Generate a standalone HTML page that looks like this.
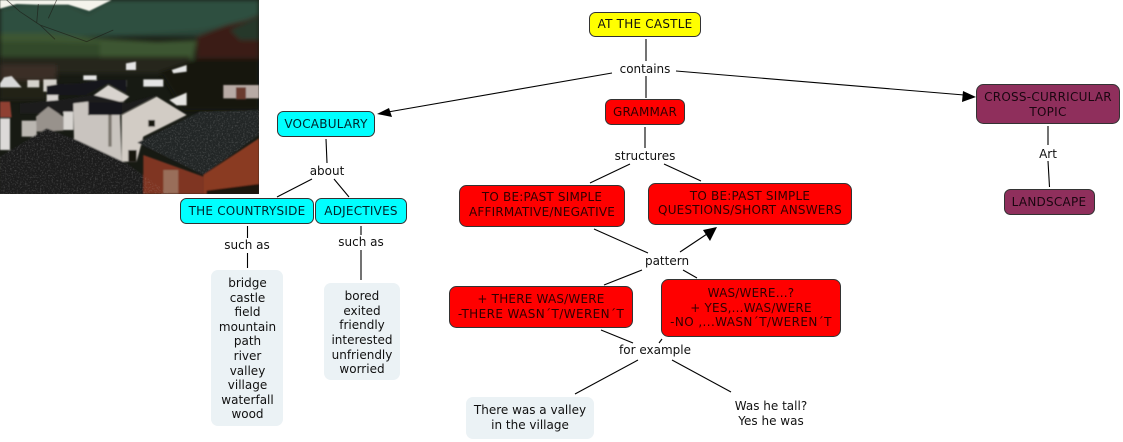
<!DOCTYPE html>
<html><head><meta charset="utf-8"><style>
html,body{margin:0;padding:0;background:#fff;width:1123px;height:442px;overflow:hidden}
svg{display:block}
text{font-family:"DejaVu Sans","Liberation Sans",sans-serif;font-size:12px;fill:#111;text-anchor:middle}
.c{letter-spacing:.22px}
.r{fill:#300000;letter-spacing:.2px}
.q{fill:#300000;letter-spacing:.4px}
.cy{fill:#00252c}
.p{fill:#1a0610;letter-spacing:.25px}
.n{stroke-width:1;stroke:#333}
.l{stroke:#000;stroke-width:1.1;fill:none}
</style></head><body>
<svg width="1123" height="442" viewBox="0 0 1123 442" xmlns="http://www.w3.org/2000/svg">
<defs>
<filter id="b" filterUnits="userSpaceOnUse" x="-30" y="-30" width="840" height="650"><feGaussianBlur stdDeviation="2.200"/></filter>
<filter id="b2" filterUnits="userSpaceOnUse" x="-60" y="-60" width="900" height="710"><feGaussianBlur stdDeviation="7"/></filter>
<filter id="t" filterUnits="userSpaceOnUse" x="0" y="0" width="777" height="582"><feTurbulence type="fractalNoise" baseFrequency=".2" numOctaves="2" seed="4"/><feColorMatrix values="0 0 0 0 .55 0 0 0 0 .55 0 0 0 0 .55 0 0 0 2 -.95"/></filter>
<clipPath id="c"><rect width="777" height="582"/></clipPath>
<clipPath id="roofs"><path d="M0 470L140 385L230 420L380 490L510 582H0ZM412 428L600 335L777 330V405L610 525Z"/></clipPath>
</defs>
<g transform="scale(.3333)" clip-path="url(#c)">
<rect width="777" height="582" fill="#171a13"/>
<g filter="url(#b2)">
<rect width="777" height="110" fill="#2a4537"/>
<path d="M0 30L90 15L200 15L265 45L340 0H777V60L600 90L300 110L0 100Z" fill="#2f5040"/>
<path d="M0 100L130 100L300 115L470 125L590 120L580 180H0Z" fill="#3e5630"/>
<path d="M0 125H120L300 130V175H0Z" fill="#33492a"/>
<path d="M590 110L680 75L740 60L777 45V190H590Z" fill="#3a1f18"/>
<path d="M690 90L777 50V120H720Z" fill="#27392a"/>
<path d="M0 170H570V220H0Z" fill="#25251a"/>
<path d="M0 195H170V240H0Z" fill="#3a2d25"/>
<path d="M480 215L600 175H777V330H550Z" fill="#12160e"/>
<path d="M0 240H140V300H0Z" fill="#202119"/>
</g>
<path d="M0 0H335L268 33L205 14L110 14L50 12L0 26Z" fill="#f4f4ec" filter="url(#b)"/>
<g filter="url(#b)">
<path d="M0 250L12 232L35 228L65 262H0Z" fill="#d8d8d8"/>
<path d="M82 240H118V262H82ZM130 238H170V275H130Z" fill="#d5d2cc"/>
<path d="M250 226H290V240H250ZM378 190L408 185V210H378ZM515 210L560 195V215L520 220ZM430 238H490V260H430ZM350 240H380V260H350Z" fill="#e4e4e4"/>
<path d="M670 255H777V295H670Z" fill="#b8aba5"/>
<path d="M708 262H738V298H708Z" fill="#6b3a2e"/>
<path d="M140 280H175V312H140ZM175 255H250V285H185Z" fill="#d8d4d0"/>
<path d="M282 285L325 255L388 290L370 305H290Z" fill="#d8d3ce"/>
<path d="M508 300L560 278V316H530Z" fill="#e4e3e0"/>
<path d="M140 258L180 252L240 250L300 240L380 240V280L325 250L260 285L140 285Z" fill="#17171a"/>
<path d="M60 310L180 300L280 285L380 310L470 285L370 340H60Z" fill="#1b1a1b"/>
<path d="M0 305H30L35 352H0Z" fill="#8f3f30"/>
<path d="M0 355H30V450H0Z" fill="#dcdad8"/>
<path d="M65 362H110V410H65Z" fill="#bab6b0"/>
<path d="M108 350L145 320L190 350V392L110 395Z" fill="#98928c"/>
<path d="M190 335H220V390H190Z" fill="#d8d5d1"/>
<path d="M220 310L265 305V345H360L365 485L300 465L222 420Z" fill="#c9c4bf"/>
<path d="M365 345L470 290L560 345L430 410L410 485H365Z" fill="#d2ccc5"/>
<path d="M445 360H465V380H445ZM385 450H410V485H385Z" fill="#18130f"/>
<path d="M325 345H335V440H325Z" fill="#7d776f"/>
<path d="M268 308H365V345H268Z" fill="#17171a"/>
<path d="M0 470L140 385L230 420L380 490L510 582H0Z" fill="#1c1f1e"/>
<path d="M412 428L600 335L777 330V405L610 525Z" fill="#232528"/>
<path d="M430 465L610 530V582H430Z" fill="#7f3421"/>
<path d="M610 525L777 415V582H610Z" fill="#8a3a20"/>
<path d="M490 510H535V580H490Z" fill="#a88d7a" opacity=".65"/>
<path d="M620 572L777 552V582H620Z" fill="#1c1610"/>
</g>
<g clip-path="url(#roofs)"><rect width="777" height="582" filter="url(#t)" opacity=".3"/></g>
<path d="M20 0L60 35L120 75L165 118M115 12L110 70M170 0L145 55M120 75L260 125L340 90" stroke="#1a1712" stroke-width="2.500" fill="none" opacity=".6"/>
</g>

<g class="l">
<path d="M646 39V61M646 76V98M612 73L388 112M676 71L964 95M645 127V148M630 164L590 183M664 164L701 181M1048 126V145M1048 161L1049.500 187M326 139L327 163M312 179L277 197M334 179L349 197M247.500 226V238M247.500 253V268M361 226V235M361 250V280M594 229L648 253M680 252L707 234M642 270L604 285M683 270L697 278M601 330L633 343M662 339L659 343M638 360L575 394M672 360L731 392"/>
</g>
<path d="M377 114L389 108L392 117Z" fill="#000"/>
<path d="M976 97L962 102L963 91Z" fill="#000"/>
<path d="M717 227L710 241L703 230Z" fill="#000"/>

<g class="n">
<rect x="589.500" y="12.500" width="111" height="24" rx="6" fill="#ff0"/>
<rect x="605.500" y="99.500" width="79" height="25" rx="6" fill="#f00"/>
<rect x="976.500" y="84.500" width="143" height="39" rx="7" fill="#8f2f5c"/>
<rect x="1004.500" y="189.500" width="90" height="25" rx="6" fill="#8f2f5c"/>
<rect x="277.500" y="111.500" width="97" height="25" rx="6" fill="#0ff"/>
<rect x="180.500" y="198.500" width="133" height="25" rx="6" fill="#0ff"/>
<rect x="315.500" y="198.500" width="91" height="25" rx="6" fill="#0ff"/>
<rect x="459.500" y="185.500" width="165" height="41" rx="7" fill="#f00"/>
<rect x="648.500" y="183.500" width="203" height="41" rx="7" fill="#f00"/>
<rect x="449.500" y="286.500" width="183" height="41" rx="7" fill="#f00"/>
<rect x="661.500" y="279.500" width="179" height="57" rx="7" fill="#f00"/>
</g>
<rect x="211" y="270" width="72" height="156" rx="7" fill="#ebf2f5"/>
<rect x="324" y="283" width="76" height="97" rx="7" fill="#ebf2f5"/>
<rect x="466" y="397" width="128" height="42" rx="7" fill="#ebf2f5"/>

<text class="c" x="645" y="28">AT THE CASTLE</text>
<text x="645" y="73">contains</text>
<text class="r" x="645" y="116">GRAMMAR</text>
<text x="645" y="160">structures</text>
<text class="p" x="1048" y="101">CROSS-CURRICULAR</text>
<text class="p" x="1048" y="116">TOPIC</text>
<text x="1048" y="158">Art</text>
<text class="p" x="1049" y="206">LANDSCAPE</text>
<text class="c cy" x="326" y="128">VOCABULARY</text>
<text x="327" y="175">about</text>
<text class="c cy" x="247" y="215">THE COUNTRYSIDE</text>
<text class="c cy" x="361" y="215">ADJECTIVES</text>
<text x="247" y="249">such as</text>
<text x="361" y="246">such as</text>
<text x="247.500" y="287">bridge</text>
<text x="247.500" y="302">castle</text>
<text x="247.500" y="316">field</text>
<text x="247.500" y="331">mountain</text>
<text x="247.500" y="345">path</text>
<text x="247.500" y="360">river</text>
<text x="247.500" y="375">valley</text>
<text x="247.500" y="389">village</text>
<text x="247.500" y="404">waterfall</text>
<text x="247.500" y="418">wood</text>
<text x="362" y="300">bored</text>
<text x="362" y="315">exited</text>
<text x="362" y="329">friendly</text>
<text x="362" y="344">interested</text>
<text x="362" y="359">unfriendly</text>
<text x="362" y="373">worried</text>
<text class="r" x="542" y="201">TO BE:PAST SIMPLE</text>
<text class="r" x="542" y="216">AFFIRMATIVE/NEGATIVE</text>
<text class="r" x="750" y="200">TO BE:PAST SIMPLE</text>
<text class="r" x="750" y="214">QUESTIONS/SHORT ANSWERS</text>
<text x="667" y="265">pattern</text>
<text class="r" x="541" y="303">+ THERE WAS/WERE</text>
<text class="q" x="541" y="318">-THERE WASN´T/WEREN´T</text>
<text class="r" x="751" y="297">WAS/WERE...?</text>
<text class="r" x="751" y="312">+ YES,...WAS/WERE</text>
<text class="q" x="751" y="326">-NO ,...WASN´T/WEREN´T</text>
<text x="655" y="354">for example</text>
<text x="530" y="414">There was a valley</text>
<text x="530" y="429">in the village</text>
<text x="771" y="410">Was he tall?</text>
<text x="771" y="425">Yes he was</text>
</svg>
</body></html>
